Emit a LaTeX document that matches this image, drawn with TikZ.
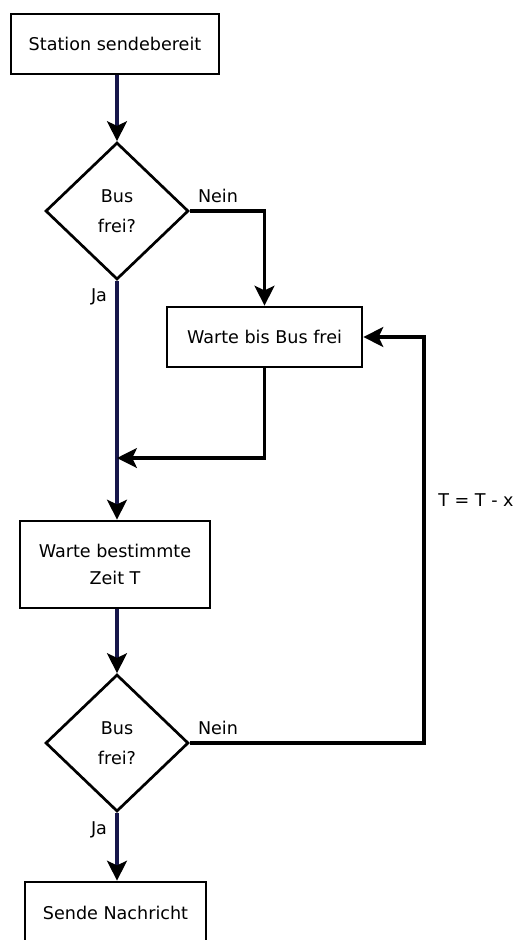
\documentclass[tikz,border=0pt]{standalone}
\usepackage{fontspec}
\setmainfont{DejaVu Sans}
\usetikzlibrary{shapes.geometric,arrows.meta}
\definecolor{spine}{RGB}{22,22,74}
\tikzset{
  stepbox/.style={draw, line width=2.3pt, fill=white, align=center, font=\fontsize{15}{23}\selectfont, inner sep=0pt},
  query/.style={draw, diamond, line width=2.3pt, fill=white, align=center, inner sep=0pt,
    minimum width=4.29cm, minimum height=4.11cm, font=\fontsize{15}{23}\selectfont},
  flow/.style={line width=2.7pt, -{Stealth[length=17pt, width=17pt, inset=4pt, color=black]}},
  tag/.style={font=\fontsize{15}{18}\selectfont}
}
\begin{document}
\begin{tikzpicture}[x=0.03cm, y=-0.03cm]
        \useasboundingbox (0,0) rectangle (518,940);

        % === Kasten und Entscheidungen ===
        \node[stepbox, minimum width=6.24cm, minimum height=1.8cm] (start) at (115,44) {Station sendebereit};
        \node[query] (q1) at (117,211) {Bus\\[3pt]frei?};
        \node[stepbox, minimum width=5.85cm, minimum height=1.8cm] (waitfree) at (264.5,337) {Warte bis Bus frei};
        \node[stepbox, minimum width=5.7cm, minimum height=2.61cm] (waitT) at (115,564.5) {Warte bestimmte\\Zeit T};
        \node[query] (q2) at (117,743) {Bus\\[3pt]frei?};
        \node[stepbox, minimum width=5.43cm, minimum height=1.86cm] (send) at (115.5,913) {Sende Nachricht};

        % Hilfspunkte
        \coordinate (merge) at (117,458);
        \coordinate (back) at (424,743);

        % === Verbindungen ===
        \draw[flow, spine] (start.south -| q1.north) -- (q1.north);
        \draw[flow] (q1.east) -| (waitfree.north);
        \draw[flow, spine] (q1.south) -- (q1.south |- waitT.north);
        \draw[flow] (waitfree.south) |- (merge);
        \draw[flow, spine] (waitT.south -| q2.north) -- (q2.north);
        \draw[flow] (q2.east) -- (back) |- (waitfree.east);
        \draw[flow, spine] (q2.south) -- (q2.south |- send.north);

        % Beschriftungen
        \node[tag] (nein1) at (218,196) {Nein};
        \node[tag] (ja1) at (99,297) {Ja};
        \node[tag] (nein2) at (218,728) {Nein};
        \node[tag] (ja2) at (99,830) {Ja};
        \node[tag] (tminus) at (476,500) {T = T - x};

\end{tikzpicture}
\end{document}
